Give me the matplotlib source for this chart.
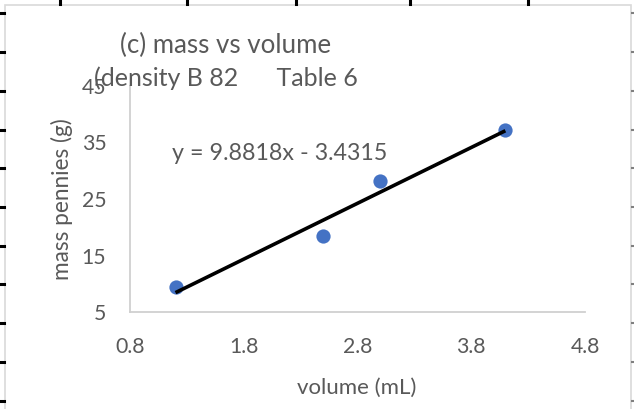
import matplotlib
matplotlib.use("Agg")
import matplotlib.pyplot as plt
from matplotlib.lines import Line2D
from matplotlib.patches import Rectangle
import numpy as np

# ---- data ----
volume_ml = [1.2, 2.5, 3.0, 4.1]
mass_g = [9.4, 18.5, 28.2, 37.3]
trend_slope = 9.8818
trend_intercept = -3.4315
x_ticks = [0.8, 1.8, 2.8, 3.8, 4.8]
y_ticks = [5, 15, 25, 35, 45]
title_line1 = "(c) mass vs volume"
title_line2 = "(density B 82      Table 6"
equation = "y = 9.8818x - 3.4315"
x_label = "volume (mL)"
y_label = "mass pennies (g)"

W, H = 634, 409
DPI = 100
plt.rcParams['font.family'] = ['Lato', 'DejaVu Sans']
TXT = '#595959'

fig = plt.figure(figsize=(W / DPI, H / DPI), dpi=DPI)
fig.patch.set_facecolor('white')
renderer = fig.canvas.get_renderer()


def fx(px):
    return px / W


def fy(py):
    return 1 - py / H


def fit_size(text, target_px, base=14.0, rotation=0):
    t = fig.text(0, 0, text, fontsize=base, rotation=rotation)
    bb = t.get_window_extent(renderer=renderer)
    t.remove()
    size = bb.height if rotation else bb.width
    return base * target_px / size


# chart area border
fig.add_artist(Rectangle((fx(5), fy(420)), fx(631) - fx(5), fy(5) - fy(420),
                         transform=fig.transFigure, fill=False,
                         edgecolor='#d9d9d9', linewidth=1.2))
# spreadsheet cell marks around the chart
for yy in [13, 52, 91, 130, 168, 207, 246, 284, 323, 362, 401]:
    fig.add_artist(Line2D([fx(0), fx(4)], [fy(yy), fy(yy)], transform=fig.transFigure,
                          color='black', linewidth=2.2))
    fig.add_artist(Line2D([fx(632), fx(634)], [fy(yy), fy(yy)], transform=fig.transFigure,
                          color='#808080', linewidth=1.5))
for xx in [60, 187, 296, 410, 528]:
    fig.add_artist(Line2D([fx(xx), fx(xx)], [fy(0), fy(4)], transform=fig.transFigure,
                          color='black', linewidth=2.2))

tick_fs = fit_size("0.8", 30)

ax = fig.add_axes([fx(130), fy(312), fx(585) - fx(130), fy(86) - fy(312)])
ax.set_xlim(x_ticks[0], x_ticks[-1])
ax.set_ylim(y_ticks[0], y_ticks[-1])
ax.set_xticks(x_ticks)
ax.set_yticks(y_ticks)
ax.set_xticklabels([f"{v:.1f}" for v in x_ticks])
ax.set_yticklabels([str(v) for v in y_ticks])
ax.tick_params(length=0, labelsize=tick_fs, labelcolor=TXT)
ax.tick_params(axis='x', pad=18)
ax.tick_params(axis='y', pad=17)
for s in ['top', 'right']:
    ax.spines[s].set_visible(False)
for s in ['left', 'bottom']:
    ax.spines[s].set_color('#d0d0d0')
    ax.spines[s].set_linewidth(1.3)

ax.scatter(volume_ml, mass_g, s=105, color='#4472c4', zorder=3, linewidths=0)
xs = np.array([min(volume_ml), max(volume_ml)])
ax.plot(xs, trend_slope * xs + trend_intercept, color='black', linewidth=2.6,
        solid_capstyle='butt', zorder=4)

fig.text(fx(357), fy(388), x_label, fontsize=fit_size(x_label, 120), color=TXT,
         ha='center', va='center')
fig.text(fx(62), fy(199), y_label, fontsize=fit_size(y_label, 162, rotation=90),
         color=TXT, ha='center', va='center', rotation=90)

fig.text(fx(120), fy(45), title_line1, fontsize=fit_size(title_line1, 212), color=TXT,
         va='center', ha='left')
fig.text(fx(94), fy(78), title_line2, fontsize=fit_size(title_line2, 265), color=TXT,
         va='center', ha='left')
fig.text(fx(172), fy(153), equation, fontsize=fit_size(equation, 216), color=TXT,
         va='center', ha='left')

fig.savefig('out.png', dpi=DPI)
